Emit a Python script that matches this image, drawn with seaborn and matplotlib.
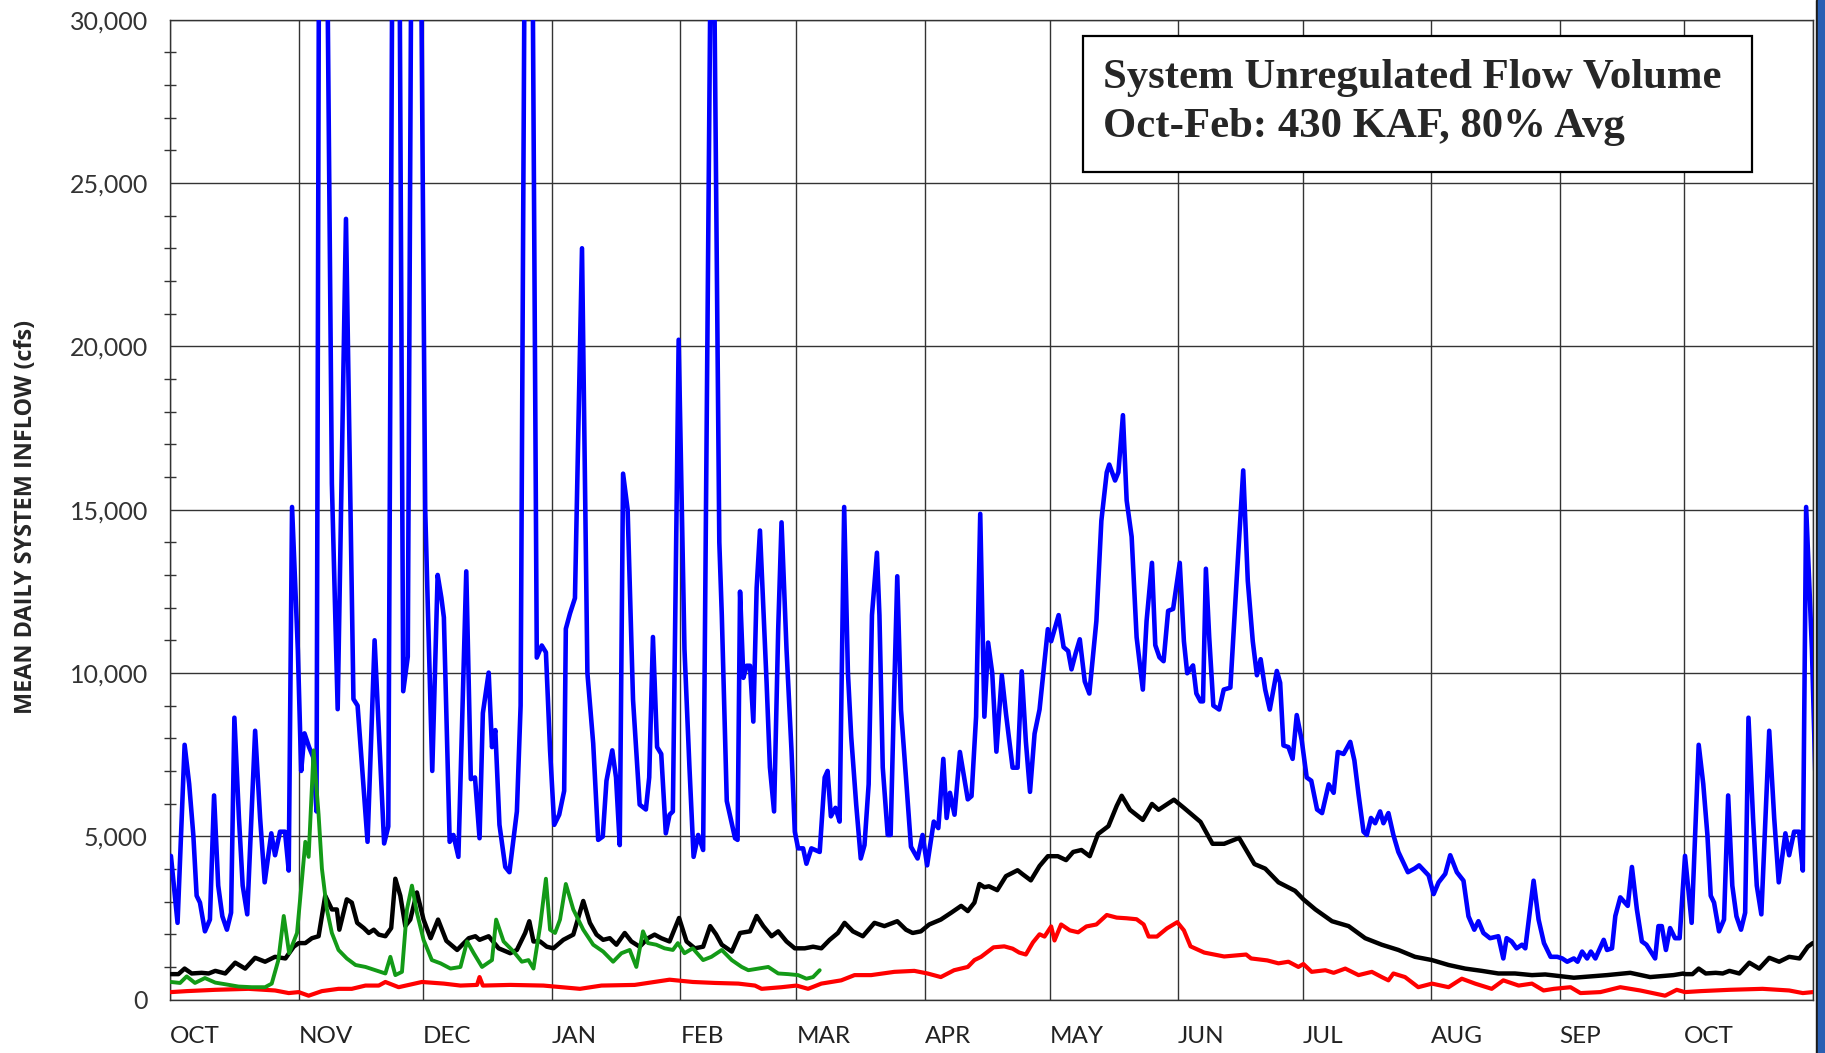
import pandas as pd
import matplotlib.pyplot as plt
from matplotlib.patches import Rectangle
from matplotlib.ticker import FixedLocator, MultipleLocator, FuncFormatter
import seaborn as sns

# ---- data: day 0 = Oct 1, values in cfs ----

max_days = [0.2, 1.8, 3.5, 4.6, 5.6, 6.4, 7.2, 8.4, 9.6, 10.6, 11.6, 12.6, 13.7, 14.7, 15.5, 16.6,
            17.5, 18.6, 20.5, 21.7, 22.8, 24.4, 25.3, 26.5, 27.7, 28.6, 29.4, 30.8, 31.6, 32.4, 33.5,
            34.5, 35.3, 36.2, 37.0, 39.0, 40.4, 42.4, 44.2, 45.2, 47.6, 49.3, 51.6, 52.6, 54.0, 55.0,
            56.2, 57.3, 58.6, 59.8, 61.5, 63.2, 64.5, 65.4, 66.0, 67.4, 68.3, 69.5, 71.4, 72.5, 73.5,
            74.6, 75.4, 76.8, 77.6, 78.4, 79.4, 80.8, 81.8, 83.6, 84.5, 86.0, 87.0, 88.4, 89.6, 90.6,
            91.6, 92.6, 93.8, 95.0, 95.4, 96.4, 97.6, 99.3, 100.6, 102.0, 103.2, 104.3, 105.2, 106.6,
            107.5, 108.4, 109.2, 110.3, 111.6, 113.2, 114.7, 115.5, 116.4, 117.4, 118.4, 119.5, 120.4,
            121.2, 122.6, 124.0, 125.2, 126.2, 127.3, 128.5, 130.7, 132.4, 133.0, 134.2, 136.2, 136.8,
            137.4, 138.2, 139.0, 139.8, 140.6, 141.4, 142.2, 143.8, 144.6, 145.6, 146.6, 147.4, 148.6,
            149.8, 150.6, 151.4, 152.6, 153.4, 154.6, 156.6, 157.8, 158.5, 159.3, 160.4, 161.4, 162.5,
            163.4, 164.2, 165.4, 166.5, 167.4, 168.4, 169.2, 170.4, 171.0, 171.8, 173.0, 173.7, 174.4,
            175.3, 176.2, 177.4, 178.6, 180.2, 181.4, 182.5, 184.1, 185.2, 186.4, 187.2, 188.0, 189.1,
            190.4, 192.3, 193.2, 194.3, 195.3, 196.3, 197.2, 198.2, 199.2, 200.5, 201.5, 203.1, 204.3,
            205.3, 206.3, 207.3, 208.4, 209.6, 210.8, 211.6, 212.4, 214.2, 215.4, 216.5, 217.3, 218.3,
            219.3, 220.5, 221.6, 223.3, 224.5, 225.8, 226.4, 227.8, 228.6, 229.7, 230.6, 231.8, 233.0,
            234.5, 235.4, 236.7, 237.5, 238.5, 239.5, 240.6, 241.8, 243.4, 244.4, 245.2, 246.6, 247.4,
            248.4, 249.0, 249.7, 250.5, 251.5, 252.9, 254.0, 255.6, 257.1, 258.7, 259.8, 261.0, 262.0,
            262.9, 264.0, 265.1, 266.8, 267.6, 268.4, 269.6, 270.6, 271.6, 272.8, 274.0, 275.1, 276.5,
            277.7, 279.3, 280.5, 281.5, 282.9, 284.5, 285.5, 286.5, 287.7, 288.5, 289.5, 290.5, 291.7,
            292.5, 293.7, 294.9, 296.1, 298.4, 300.0, 301.1, 303.4, 304.6, 305.8, 307.4, 308.6, 310.2,
            311.8, 313.0, 314.4, 315.4, 316.6, 318.2, 320.2, 321.4, 322.2, 323.4, 324.6, 325.9, 326.7,
            328.7, 329.9, 331.2, 332.8, 334.4, 335.6, 336.8, 338.4, 339.3, 340.4, 341.6, 342.5, 343.6,
            345.6, 346.4, 347.6, 348.4, 349.6, 351.4, 352.4, 353.6, 354.8, 355.9, 358.0, 358.8, 359.6,
            360.6, 361.6, 362.8, 363.9]
max_flow = [4400, 2350, 7800, 6600, 5040, 3180, 2970, 2090, 2450, 6250, 3490, 2550, 2140, 2660, 8630, 5560,
            3490, 2610, 8230, 5560, 3590, 5090, 4420, 5140, 5140, 3950, 15080, 10700, 7000, 8150, 7730,
            7420, 5760, 46000, 45000, 15800, 8890, 23900, 9200, 9000, 4830, 11000, 4780, 5300, 44000, 40000,
            9440, 10500, 44000, 44000, 15000, 7000, 13000, 12300, 11700, 4830, 5040, 4370, 13110, 6750, 6800,
            4940, 8770, 10010, 7730, 8250, 5350, 4060, 3900, 5760, 9000, 45000, 40000, 10470, 10840, 10630,
            7630, 5350, 5660, 6390, 11350, 11820, 12290, 23000, 10000, 7840, 4890, 4990, 6700, 7630,
            6800, 4730, 16100, 15000, 9180, 5970, 5820, 6800, 11100, 7730, 7520, 5090, 5660,
            5760, 20200, 10730, 7110, 4370, 5040, 4580, 38000, 14000, 11770, 6080, 4940, 4890,
            12490, 9850, 10220, 10220, 8510, 12600, 14360, 9700, 7110, 5760, 11350, 14610, 10730,
            7630, 5140, 4630, 4630, 4160, 4630, 4520, 6800, 7000, 5610, 5870, 5450, 15080,
            10010, 8040, 5970, 4320, 4730, 6590, 11770, 13680, 11770, 7110, 5040, 5040, 8660,
            12960, 8870, 6800, 4680, 4320, 5040, 4110, 5450, 5250, 7370, 5560, 6330, 5660,
            7580, 6130, 6230, 8660, 14870, 8660, 10930, 9990, 7590, 9930, 8760, 7100, 7100,
            10050, 7900, 6360, 8140, 8880, 10360, 11340, 10970, 11770, 10790, 10670, 10110, 10600,
            11030, 9740, 9370, 11590, 14660, 16140, 16380, 15890, 16140, 17890, 15280, 14170, 11090,
            9490, 11590, 13370, 10850, 10480, 10360, 11900, 11960, 13370, 10970, 9990, 10230, 9370,
            9130, 9130, 13190, 11090, 9000, 8880, 9490, 9550, 12820, 16200, 12820, 10970, 9930,
            10420, 9490, 8880, 10060, 9700, 7780, 7730, 7370, 8710, 7940, 6800, 6700, 5820,
            5710, 6590, 6330, 7580, 7520, 7890, 7320, 6280, 5140, 5040, 5560, 5400, 5760,
            5400, 5710, 5040, 4520, 3900, 4010, 4110, 3800, 3230, 3590, 3850, 4420, 3900,
            3640, 2550, 2140, 2400, 2040, 1880, 1940, 1260, 1880, 1780, 1570, 1680, 1570,
            3640, 2450, 1730, 1310, 1310, 1260, 1160, 1260, 1160, 1470, 1260, 1470, 1260,
            1830, 1520, 1570, 2560, 3130, 2870, 4060, 2760, 1780, 1680, 1260, 2250, 2250,
            1520, 2190, 1880, 1880]

avg_days = [0.2, 2.0, 3.5, 5.2, 7.6, 9.3, 10.9, 13.3, 15.7, 18.1, 20.5, 22.9, 25.3, 27.8, 29.8, 31.0,
            32.6, 34.2, 35.8, 37.4, 39.0, 40.2, 40.8, 42.6, 43.8, 45.1, 46.7, 47.9, 49.1, 50.3, 51.9,
            53.3, 54.3, 55.5, 56.7, 57.9, 59.5, 61.1, 62.8, 64.6, 66.6, 69.2, 72.0, 73.6, 74.6, 76.8,
            79.2, 82.0, 83.6, 85.6, 86.6, 87.6, 89.2, 90.8, 92.4, 94.8, 97.2, 99.6, 101.2, 102.8,
            104.4, 106.0, 107.6, 109.6, 111.2, 113.2, 115.2, 116.8, 118.4, 120.4, 122.7, 124.5, 126.5,
            128.5, 130.2, 131.6, 133.0, 135.4, 137.4, 139.8, 141.4, 143.0, 145.0, 146.6, 148.6, 150.6,
            153.0, 155.0, 157.0, 159.0, 161.0, 162.6, 164.6, 167.0, 169.8, 172.2, 175.3, 177.4, 179.0,
            181.0, 183.0, 185.8, 188.3, 190.7, 192.3, 193.9, 195.1, 196.3, 197.4, 199.4, 201.5, 204.3,
            205.5, 207.5, 209.6, 211.6, 214.0, 216.0, 217.7, 219.7, 221.7, 223.7, 226.2, 228.2, 229.4,
            231.4, 234.5, 236.7, 238.3, 242.0, 244.4, 248.4, 251.3, 254.1, 257.7, 261.4, 264.0, 267.2,
            271.2, 273.2, 276.1, 280.1, 284.1, 288.1, 292.1, 296.1, 300.1, 304.2, 308.2, 312.2, 316.2,
            320.2, 324.2, 328.3, 331.5, 338.4, 346.4, 352.0, 356.8, 362.4, 364.8]
avg_flow = [780, 780, 950, 800, 820, 800, 880, 800, 1130, 950, 1280, 1160, 1310, 1260, 1620, 1730,
            1730, 1880, 1940, 3180, 2760, 2760, 2140, 3070, 2970, 2350, 2190, 2040, 2140, 1990, 1940,
            2190, 3700, 3180, 2250, 2450, 3280, 2450, 1880, 2450, 1800, 1520, 1880, 1940, 1830, 1940,
            1570, 1420, 1520, 2040, 2400, 1780, 1780, 1620, 1570, 1830, 1990, 3020, 2350, 1990,
            1830, 1880, 1680, 2040, 1780, 1620, 1880, 1990, 1880, 1780, 2500, 1780, 1570,
            1620, 2250, 2000, 1680, 1470, 2040, 2090, 2560, 2250, 1940, 2090, 1780, 1570,
            1570, 1620, 1570, 1830, 2040, 2350, 2090, 1940, 2350, 2250, 2400, 2140, 2040,
            2090, 2300, 2450, 2660, 2870, 2710, 2970, 3540, 3440, 3470, 3350, 3780, 3960,
            3840, 3650, 4090, 4390, 4390, 4270, 4520, 4580, 4390, 5070, 5310, 5930, 6240,
            5810, 5500, 5990, 5810, 6120, 5870, 5440, 4770, 4770, 4950, 4150, 4010, 3590,
            3330, 3070, 2760, 2400, 2250, 1880, 1680, 1520, 1310, 1210, 1060, 950, 880,
            800, 800, 750, 770, 670, 750, 820, 690, 750, 800]

min_days = [0.2, 4.0, 10.9, 18.9, 25.3, 28.6, 31.0, 33.4, 36.6, 40.6, 43.8, 47.1, 50.3, 51.9, 55.1,
            60.7, 66.0, 70.0, 74.0, 74.6, 75.4, 82.0, 90.0, 98.8, 104.0, 112.0, 120.4, 126.0, 131.4,
            137.0, 141.0, 142.6, 147.4, 151.0, 153.8, 157.0, 161.8, 165.0, 169.0, 174.6, 179.4, 182.6,
            185.8, 189.0, 192.3, 193.9, 195.5, 198.5, 201.1, 203.1, 204.7, 206.3, 208.0, 209.6, 210.8,
            212.4, 213.2, 214.8, 216.9, 218.9, 220.9, 223.3, 225.8, 228.2, 230.6, 233.0, 234.7, 235.9,
            237.9, 240.3, 242.8, 244.4, 246.0, 249.3, 254.1, 259.4, 260.6, 264.5, 267.2, 269.6, 272.0,
            273.2, 275.2, 278.5, 280.5, 283.3, 286.5, 289.7, 292.1, 293.7, 294.9, 297.7, 300.9, 304.2,
            308.2, 311.4, 314.6, 318.6, 321.4, 325.1, 328.3, 331.1, 333.6, 337.6, 340.0, 344.8, 349.6,
            354.4, 360.4, 363.2]
min_flow = [230, 260, 300, 330, 280, 200, 230, 120, 260, 330, 330, 430, 430, 540, 380,
            540, 490, 430, 450, 690, 430, 450, 430, 330, 430, 450, 610, 540, 510,
            490, 430, 330, 380, 430, 330, 490, 590, 750, 750, 850, 880, 800,
            690, 900, 1000, 1210, 1310, 1600, 1630, 1560, 1440, 1380, 1750, 2000, 1930,
            2240, 1810, 2300, 2120, 2060, 2240, 2300, 2590, 2510, 2490, 2460, 2300, 1930,
            1930, 2180, 2370, 2120, 1630, 1440, 1320, 1380, 1260, 1200, 1110, 1160, 1000,
            1090, 850, 900, 820, 950, 750, 850, 690, 590, 800, 690, 380, 490,
            380, 640, 490, 330, 590, 430, 490, 280, 330, 380, 200, 230, 380,
            280, 120, 300]

cur_days = [0.2, 2.4, 4.0, 6.0, 8.4, 10.9, 13.3, 16.5, 19.7, 22.9, 24.5, 26.1, 27.4, 28.7, 30.6, 31.8,
            32.6, 33.4, 34.6, 35.8, 36.6, 37.8, 39.0, 40.6, 42.6, 44.7, 47.1, 49.5, 51.9, 53.1, 54.3,
            55.9, 57.1, 58.3, 59.5, 61.1, 63.1, 65.2, 67.6, 70.0, 71.6, 73.2, 75.2, 77.6, 78.6, 80.4,
            82.8, 84.8, 86.4, 87.6, 89.2, 90.6, 91.6, 92.8, 94.0, 95.4, 97.2, 99.6, 102.0, 104.4,
            106.8, 108.8, 110.8, 112.4, 114.0, 115.2, 117.2, 119.2, 121.2, 122.4, 124.0, 126.0, 128.5,
            130.5, 133.0, 135.4, 137.8, 139.4, 141.8, 144.2, 146.6, 149.0, 151.4, 153.4, 155.0, 156.6]
cur_flow = [540, 510, 710, 510, 660, 520, 470, 400, 380, 380, 490, 1210, 2560, 1420, 2040, 3700,
            4830, 4370, 7630, 5660, 4010, 2760, 2040, 1520, 1260, 1060, 1000, 900, 800, 1310, 750,
            850, 2760, 3490, 2660, 1830, 1210, 1110, 950, 1000, 1780, 1420, 1000, 1210, 2450, 1780,
            1470, 1160, 1210, 950, 2250, 3700, 2140, 2040, 2450, 3540, 2760, 2140, 1680, 1470,
            1160, 1420, 1520, 1000, 2090, 1730, 1680, 1570, 1520, 1730, 1420, 1570, 1210,
            1310, 1520, 1210, 1000, 900, 950, 1000, 800, 780, 750, 640, 690, 900]

months = ['OCT', 'NOV', 'DEC', 'JAN', 'FEB', 'MAR', 'APR', 'MAY', 'JUN', 'JUL', 'AUG', 'SEP', 'OCT']
month_start = [0, 31, 61, 92, 123, 151, 182, 212, 243, 273, 304, 335, 365]
y_ticks = [0, 5000, 10000, 15000, 20000, 25000, 30000]


def add_next_october(days, flow):
    # the chart shows October again after September
    extra_d = [d + 365 for d in days if d < 33]
    extra_f = [f for d, f in zip(days, flow) if d < 33]
    return list(days) + extra_d, list(flow) + extra_f


sns.set_style('white')
plt.rcParams['font.family'] = ['Lato', 'DejaVu Sans']

fig = plt.figure(figsize=(18.25, 10.53), dpi=100)
ax = fig.add_axes([0.0932, 0.0507, 0.9001, 0.9307])

series = [
    ('Maximum', max_days, max_flow, '#0000ff', 3.3, True),
    ('Minimum', min_days, min_flow, '#ff0000', 3.0, True),
    ('Average', avg_days, avg_flow, '#000000', 3.2, True),
    ('Current', cur_days, cur_flow, '#139a17', 2.8, False),
]
for name, d, f, color, lw, repeat in series:
    if repeat:
        d, f = add_next_october(d, f)
    df = pd.DataFrame({'day': d, 'flow': f})
    sns.lineplot(data=df, x='day', y='flow', color=color, lw=lw, ax=ax,
                 estimator=None, sort=False, zorder=3)

ax.set_xlim(0, 396)
ax.set_ylim(0, 30000)
ax.set_xlabel('')
ax.set_ylabel('')

ax.xaxis.set_major_locator(FixedLocator(month_start + [396]))
ax.set_xticklabels(months + [''], ha='left')
ax.yaxis.set_major_locator(FixedLocator(y_ticks))
ax.yaxis.set_minor_locator(MultipleLocator(1000))
ax.yaxis.set_major_formatter(FuncFormatter(lambda v, p: f'{v:,.0f}'))

ax.grid(True, which='major', color='#333333', lw=1.0)
ax.tick_params(axis='x', which='major', direction='out', length=7, width=1.0,
               color='#333333', pad=12, labelsize=17.5, labelcolor='#222222')
ax.tick_params(axis='y', which='major', direction='out', length=6, width=1.0,
               color='#333333', pad=10, labelsize=18, labelcolor='#333333')
ax.tick_params(axis='y', which='minor', direction='inout', length=8, width=1.0,
               color='#333333', left=True)
for s in ax.spines.values():
    s.set_color('#333333')
    s.set_linewidth(1.0)

fig.text(0.0145, 0.509, 'MEAN DAILY SYSTEM INFLOW (cfs)', rotation=90, weight='bold',
         family='Open Sans', size=16.8, ha='center', va='center')

# title box
ax.add_patch(Rectangle((0.5558, 0.8445), 0.4073, 0.1388, transform=ax.transAxes,
                       facecolor='white', edgecolor='black', lw=1.6, zorder=5))
ax.text(0.568, 0.9405, 'System Unregulated Flow Volume', transform=ax.transAxes,
        family='Liberation Serif', weight='bold', size=30.8, ha='left', va='center', zorder=6)
ax.text(0.568, 0.8905, 'Oct-Feb: 430 KAF, 80% Avg', transform=ax.transAxes,
        family='Liberation Serif', weight='bold', size=30.8, ha='left', va='center', zorder=6)

# slide border visible at the right edge of the reference
fig.patches.append(Rectangle((1815.5 / 1825, 0), 2 / 1825, 1, transform=fig.transFigure,
                             color='#1a1a1a', zorder=10))
fig.patches.append(Rectangle((1817.5 / 1825, 0), 7.5 / 1825, 1, transform=fig.transFigure,
                             color='#2a5fb3', zorder=10))

fig.savefig('out.png', dpi=100)
